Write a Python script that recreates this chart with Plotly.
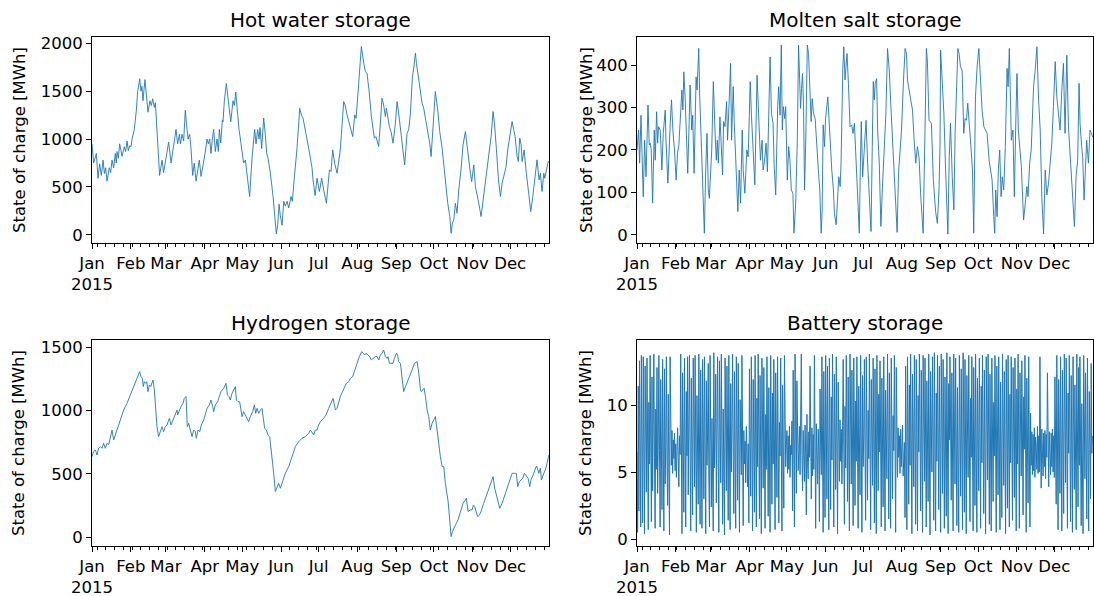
import pandas as pd
import plotly.graph_objects as go

# ---------------- data (day offset from 2015-01-01, MWh) ----------------
hot_water = [(0,950),(1.3,750),(3.5,850),(4.8,590),(6.1,740),(7.5,620),(8.8,780),(9.9,640),(10.9,700),(12.0,560),(13.8,700),(14.9,650),(16.0,780),(17.3,700),(18.6,850),(19.4,750),(20.0,870),(21.0,800),(22.1,950),(24.0,820),(25.8,920),(26.9,870),(28.0,980),(29.0,880),(30.1,930),(31.1,920),(32.0,1000),(33.8,1100),(35.4,1300),(36.5,1500),(38.1,1630),(39.1,1500),(39.9,1550),(40.7,1400),(42.3,1620),(43.4,1450),(44.7,1280),(46.3,1400),(47.4,1350),(48.5,1420),(49.8,1330),(50.6,1380),(52.4,1000),(53.2,800),(54.0,620),(55.9,780),(57.2,650),(59.1,800),(61.2,970),(63.1,750),(64.7,900),(67.1,1100),(68.4,950),(69.8,1050),(70.6,950),(71.9,1050),(73.2,980),(74.5,1300),(75.9,1100),(76.7,1000),(78.0,1050),(79.1,900),(80.4,620),(81.7,750),(83.1,560),(84.7,720),(85.7,780),(87.1,610),(88.4,700),(90.3,850),(91.9,1000),(92.9,950),(94.0,1000),(95.0,850),(96.1,1000),(97.2,1100),(98.5,870),(99.8,1000),(100.9,870),(101.7,1100),(102.8,960),(104.1,1200),(104.6,1180),(105.7,1400),(107.3,1580),(108.1,1500),(109.2,1350),(110.8,1180),(112.6,1400),(113.7,1350),(114.8,1490),(116.3,1200),(117.4,1100),(118.5,1000),(120.1,800),(121.1,750),(122.5,780),(123.3,700),(124.6,550),(125.9,400),(127.8,800),(129.9,1100),(131.0,950),(132.3,1100),(133.4,1000),(134.2,1120),(135.5,900),(136.3,1050),(137.1,1220),(138.4,1050),(139.5,850),(140.6,800),(142.4,650),(144.6,400),(146.2,100),(147.2,10),(148.3,100),(149.4,320),(150.4,200),(151.8,100),(153.1,350),(154.4,300),(155.8,350),(157.1,280),(158.9,400),(160.0,350),(161.6,600),(163.7,900),(165.9,1320),(167.2,1250),(168.5,1220),(170.4,1100),(173.1,900),(175.7,700),
(176.5,574),(178.2,410),(179.7,591),(181.6,452),(183.4,591),(185.0,470),(187.2,330),(189.6,678),(190.9,661),(192.2,887),(193.8,748),(195.7,643),(198.3,887),(201.0,1391),(202.1,1356),(203.7,1252),(205.8,1148),(208.2,1026),(209.8,1252),(210.9,1217),(213.0,1583),(215.1,1965),(217.0,1791),(218.3,1704),(219.6,1687),(221.2,1513),(223.1,1235),(224.4,1113),(225.5,1009),(226.8,1026),(228.9,922),(230.3,1165),(231.6,1426),(232.9,1356),(234.3,1235),(235.1,1322),(236.1,1235),(237.5,1130),(238.8,1078),(240.4,957),(242.3,1165),(243.6,1391),(244.9,1270),(246.8,1026),(248.4,852),(249.7,730),(251.6,1061),(252.9,1096),(254.3,1270),(255.9,1652),(256.9,1739),(258.3,1896),(259.1,1791),(260.1,1687),(262.3,1478),(263.6,1374),(264.9,1322),(266.3,1217),(268.1,1096),(269.7,957),(270.8,817),(272.9,1270),(274.2,1496),(276.1,1304),(277.7,1078),(279.6,904),(282.2,539),(284.1,330),(285.7,191),(286.8,17),(287.8,122),(288.9,157),(290.2,330),(291.5,226),(292.9,470),(294.7,678),(296.3,939),(298.2,1078),(299.0,991),(300.6,783),(302.2,643),(303.2,556),(304.9,730),(306.2,504),(307.5,435),(308.9,330),(310.7,191),(312.3,365),(313.4,435),(315.0,609),(316.8,817),(318.7,1026),(320.3,1287),(321.4,1165),(323.0,887),(324.6,574),(326.2,400),(327.5,539),(328.8,609),(330.7,713),(332.0,887),(333.6,1026),(335.5,1183),(336.8,1096),(337.9,1026),(339.5,817),(340.5,765),(341.6,1009),(342.7,939),(343.5,765),(345.1,887),(346.9,643),(348.8,435),(350.4,243),(352.0,400),(353.6,609),(355.4,783),(357.0,574),(358.1,643),(359.4,452),(360.8,643),(361.6,591),(362.9,696),(364.3,765),(364.9,765)]

molten_salt = [(0,200),(1.3,247),(2.1,169),(3.2,282),(4.0,192),(5.0,90),(6.1,223),(7.2,137),(8.8,306),(9.8,212),(10.6,216),(11.4,200),(12.5,75),(13.8,247),(14.6,176),(15.7,290),(16.5,216),(17.3,255),(18.6,247),(19.9,153),(21.0,239),(22.6,294),(23.1,231),(24.7,122),(26.6,263),(27.6,318),(28.7,247),(30.0,200),(31.3,129),(32.4,192),(33.5,212),(34.8,286),(35.9,341),(36.7,294),(37.5,384),(38.5,325),(39.6,251),(40.6,145),(41.7,263),(42.5,353),(43.8,247),(44.6,282),(45.7,145),(46.5,247),(47.3,372),(48.1,341),(48.9,416),(49.4,439),(50.2,325),(51.3,216),(52.6,90),(53.9,4),(55.0,153),(56.0,239),(57.1,106),(57.9,86),(59.8,200),(61.1,361),(62.4,247),(63.5,176),(64.3,223),(65.1,169),(66.4,278),(67.5,208),(68.5,141),(69.3,267),(70.4,255),(71.7,314),(72.5,223),(73.8,318),(74.9,404),(75.7,223),(77.0,349),(77.8,267),(79.1,153),(80.7,55),(81.8,153),(82.9,75),(84.2,247),(85.0,153),(86.3,98),(87.9,200),(89.0,184),(90.6,361),(91.6,282),(93.0,184),(94.3,118),(96.1,376),(97.5,255),(98.8,176),(100.1,223),(100.9,153),(102.0,172),(103.3,216),(104.4,149),(105.4,255),(106.5,419),(107.6,286),(108.9,263),(109.7,169),(111.0,94),(112.6,302),(113.4,349),(114.5,282),(115.5,447),(116.3,247),(117.1,302),(118.2,274),(119.0,302),(120.3,129),(121.4,208),(122.4,176),(123.5,106),(124.8,98),(125.6,4),(127.0,75),(128.3,223),(129.3,447),(129.9,361),(130.9,298),(131.7,345),(132.5,380),(133.3,302),(134.1,106),(135.2,243),(136.3,447),(137.3,427),(138.4,353),(139.4,267),(140.2,321),(141.3,286),(142.6,274),(144.2,184),(145.3,145),(146.3,106),(147.4,4),(148.2,59),(149.0,259),(150.1,208),(150.9,274),
(152.7,325),(154.0,247),(154.8,208),(155.9,153),(157.2,106),(158.0,51),(159.4,24),(160.7,106),(161.5,137),(162.6,114),(163.3,169),(164.7,388),(165.5,443),(166.5,365),(167.3,404),(168.1,427),(169.2,357),(170.5,255),(171.8,259),(172.9,239),(174.0,263),(175.3,184),(176.6,90),(177.9,4),(178.8,169),(179.5,267),(180.6,137),(181.9,192),(183.3,270),(184.6,169),(185.9,90),(187.3,8),(188.3,208),(189.1,361),(189.9,318),(190.7,357),(191.8,368),(192.6,247),(193.9,169),(195.2,20),(196.6,122),(197.9,208),(199.2,286),(200.5,439),(201.9,388),(203.2,302),(204.5,223),(205.8,161),(207.2,90),(208.2,6),(209.3,145),(210.4,196),(211.7,247),(213.3,365),(214.6,439),(215.7,427),(216.5,365),(217.8,341),(219.1,318),(220.5,294),(221.8,223),(223.1,169),(224.4,208),(225.8,180),(227.1,90),(229.0,4),(230.5,247),(231.6,439),(232.4,412),(233.7,270),(235.6,263),(237.2,129),(239.0,55),(240.4,27),(241.7,106),(242.5,208),(243.0,435),(244.3,372),(245.6,286),(247.0,153),(248.3,67),(248.8,2),(249.9,184),(250.9,263),(252.3,137),(253.6,59),(254.6,239),(255.7,341),(256.8,439),(257.8,427),(258.9,396),(260.2,388),(261.5,239),(262.6,274),(263.7,270),(264.7,310),(265.8,255),(266.9,223),(268.5,153),(269.5,4),(270.9,325),(272.2,396),(273.6,439),(274.9,365),(276.2,294),(277.6,255),(278.9,247),(280.2,239),(281.8,176),(282.9,153),(284.2,129),(285.5,43),(286.3,4),(287.1,106),(288.2,43),(289.2,153),(290.3,200),(291.4,90),(292.4,137),(293.5,106),(294.8,208),(296.2,392),(297.0,349),(298.0,439),(298.8,325),(299.6,223),(300.9,247),(302.0,90),(303.3,282),(304.1,380),(305.2,247),(306.2,208),(307.6,161),(309.4,35),(310.8,82),(312.1,114),(312.9,90),(314.3,169),(315.5,200),(317.4,349),(318.7,388),(320.1,443),(321.4,318),(322.7,247),(324.0,90),(325.4,2),(326.7,153),(328.0,94),(329.4,122),(330.7,169),(332.0,216),(333.3,302),(334.7,408),(336.0,325),(337.3,286),(338.6,247),(340.0,341),(341.3,404),(342.6,239),(344.0,423),(345.3,255),(346.6,188),(347.9,137),(349.3,43),(350.1,20),(351.4,137),(352.7,176),(353.8,357),(354.6,263),(355.9,208),(356.7,184),(357.8,82),(358.8,137),(359.9,223),(361.3,169),(362.6,247),(364.9,230)]

hydrogen = [(0,637),(1.3,676),(2.7,690),(4.0,650),(5.3,703),(6.7,716),(8.0,703),(9.3,742),(10.6,703),(12.0,742),(13.3,729),(14.6,795),(16.0,847),(17.3,768),(18.6,808),(20.0,847),(22.6,926),(25.3,1005),(26.6,1032),(28.0,1058),(30.6,1124),(33.3,1190),(35.9,1269),(38.1,1308),(39.1,1269),(40.2,1255),(41.0,1190),(41.8,1229),(42.9,1216),(43.7,1229),(44.7,1150),(45.8,1203),(46.9,1190),(47.9,1216),(48.7,1242),(49.8,1163),(50.9,953),(51.9,874),(53.2,795),(54.6,847),(55.9,874),(57.2,834),(58.6,874),(59.9,887),(61.8,940),(63.1,887),(64.7,926),(66.0,966),(67.9,1005),(68.4,966),(69.8,1005),(71.1,1032),(72.7,1058),(73.7,1097),(75.1,1111),(76.1,874),(77.2,900),(78.5,847),(79.9,795),(81.2,847),(82.5,834),(83.3,782),(84.7,847),(86.0,834),(87.3,887),(89.2,926),(90.5,979),(91.9,1018),(93.7,1045),(95.0,1084),(96.4,1032),(97.2,992),(98.5,1045),(100.4,1071),(101.7,1111),(103.0,1150),(105.2,1177),(107.0,1216),(108.1,1124),(109.4,1111),(110.5,1084),(111.8,1137),(113.2,1163),(114.5,1190),(115.3,1084),(116.6,1071),(117.9,1071),(119.0,979),(119.8,953),(121.1,992),(122.5,966),(123.8,940),(125.1,913),(126.5,953),(128.3,992),(129.7,1045),(130.7,979),(131.8,1018),(133.1,979),(134.5,1005),(135.8,1018),(136.6,953),(137.9,861),(139.2,847),(140.6,808),(141.9,795),(143.8,637),(145.1,505),(146.4,361),(147.8,400),(149.1,426),(150.4,387),(152.6,453),(154.4,505),(157.1,558),(159.7,637),(162.4,716),(165.1,755),(167.7,782),(170.4,795),(173.1,821),
(174.4,847),(175.7,821),(177.0,808),(178.4,847),(179.7,847),(181.0,887),(182.4,913),(185.0,940),(186.9,966),(189.0,1018),(190.9,1058),(192.5,1097),(194.4,1005),(195.7,1018),(198.3,1111),(201.0,1177),(203.1,1216),(205.0,1229),(206.3,1255),(208.2,1269),(209.8,1321),(211.7,1374),(213.5,1427),(215.4,1466),(216.5,1453),(217.8,1440),(218.8,1453),(220.2,1440),(221.8,1427),(223.1,1400),(224.9,1413),(226.3,1427),(227.6,1427),(228.9,1400),(230.3,1440),(231.6,1453),(232.9,1479),(234.3,1427),(235.6,1413),(236.4,1427),(237.5,1374),(238.8,1374),(240.4,1374),(241.5,1413),(243.1,1453),(244.1,1440),(244.9,1387),(246.3,1374),(247.6,1269),(248.9,1150),(250.3,1190),(251.6,1229),(253.5,1269),(255.6,1321),(257.5,1374),(259.6,1387),(261.0,1295),(262.3,1163),(263.1,1150),(264.1,1163),(265.2,1177),(266.3,1111),(267.6,1005),(268.9,953),(270.2,847),(271.6,900),(272.9,926),(274.2,953),(275.6,847),(276.9,716),(278.2,637),(279.6,558),(280.9,558),(282.2,426),(283.6,347),(284.4,282),(285.2,190),(286.2,97),(286.8,5),(287.8,45),(289.4,84),(291.0,111),(292.3,137),(294.2,203),(296.3,268),(298.2,295),(299.0,308),(300.3,203),(302.2,216),(303.5,216),(304.6,255),(305.6,242),(306.7,203),(308.0,163),(309.4,176),(310.7,203),(312.8,268),(315.5,347),(318.1,413),(320.3,479),(321.6,387),(323.5,321),(325.6,229),(327.5,268),(330.2,347),(332.8,426),(335.5,505),(337.3,505),(338.9,505),(340.0,400),(341.3,440),(342.7,453),(344.0,466),(345.3,505),(346.9,479),(348.3,466),(349.6,400),(350.6,453),(352.8,505),(354.6,558),(355.4,558),(356.8,505),(358.1,545),(358.9,453),(360.8,505),(362.1,532),(363.4,584),(364.5,624),(364.9,650)]

# battery: one reading every 12 hours from 2015-01-01 00:00
battery = [
6.5,0.5,11.4,2.1,13.3,6.2,0.9,13.7,5.8,1.2,13.6,6.9,0.4,12.9,7.3,3.5,13.5,6.0,0.7,10.2,
5.6,13.7,6.4,1.3,12.1,3.6,8.4,13.8,6.1,0.8,9.7,5.2,12.8,3.4,7.0,13.7,6.6,0.9,11.9,5.3,
2.2,13.4,6.7,0.6,12.7,4.1,6.9,13.6,5.9,2.5,10.8,6.3,0.3,13.6,7.2,5.5,8.1,4.9,7.4,6.0,
7.9,5.1,7.1,4.6,6.6,8.3,6.1,3.9,7.7,6.3,13.8,5.9,0.4,12.4,6.6,2.0,13.5,7.4,0.9,11.0,
6.2,13.6,3.3,8.8,13.7,6.3,0.6,12.0,7.1,1.8,13.5,5.4,3.9,13.7,6.8,0.5,10.7,6.0,2.6,13.8,
7.2,1.1,12.6,5.7,0.8,13.4,8.9,3.0,13.6,6.4,0.4,11.8,5.5,7.9,13.1,4.6,0.9,13.7,6.7,2.4,
9.0,6.1,0.6,13.9,5.3,7.8,12.3,2.7,6.9,13.6,6.0,0.5,13.3,7.6,4.2,13.8,5.9,1.1,9.7,6.6,
0.3,13.5,6.2,3.6,12.9,7.0,1.4,13.7,6.4,0.7,11.6,5.0,8.6,13.8,6.1,1.9,12.5,7.2,0.8,13.6,
5.8,2.9,13.1,6.5,0.5,10.4,6.9,4.8,13.7,6.2,1.0,8.1,5.6,7.3,4.2,8.4,6.8,3.9,7.1,1.2,
12.7,6.3,3.2,13.6,5.7,0.6,11.9,7.4,2.0,13.7,6.1,0.9,10.5,5.4,13.8,6.6,1.5,12.2,7.0,0.4,
13.5,5.9,3.8,12.8,6.7,0.8,9.3,5.2,13.6,6.9,1.7,11.3,6.0,0.5,13.7,7.3,2.6,10.9,5.6,13.4,
6.4,0.7,12.4,5.5,3.1,13.6,7.1,1.2,8.7,6.2,13.5,5.8,0.6,11.5,6.8,2.3,13.7,6.3,5.4,7.0,
8.1,4.9,7.7,5.2,8.4,4.6,7.0,6.3,8.8,2.1,12.6,6.5,0.9,13.8,5.6,3.4,11.8,7.2,5.1,6.6,
8.4,4.8,7.9,13.8,6.2,3.6,8.1,6.0,4.3,8.5,6.4,1.8,9.3,5.7,4.5,8.0,6.1,12.9,6.5,3.0,
8.3,4.7,7.8,5.2,13.7,6.0,0.8,8.6,5.4,4.1,8.2,6.6,1.3,11.2,6.9,4.8,13.6,6.3,0.5,12.5,
7.1,1.6,13.7,5.4,3.0,12.9,8.0,0.7,13.5,6.5,2.2,10.6,5.9,13.8,7.6,0.9,12.3,6.2,3.7,13.6,
5.5,0.4,11.7,7.0,4.3,8.9,5.8,8.2,4.1,7.6,13.4,6.8,1.1,9.9,5.3,13.7,7.4,2.8,12.1,6.0,
0.6,13.8,5.7,4.1,12.6,7.3,1.0,13.5,6.4,2.5,10.3,5.8,13.6,7.0,0.8,11.4,6.1,3.3,13.7,6.6,
0.5,12.2,5.4,7.8,13.4,6.3,1.4,13.6,7.2,2.9,9.6,6.0,13.8,5.5,0.7,11.9,6.8,4.0,13.5,6.2,
1.2,12.7,7.4,0.4,13.7,5.6,3.6,10.8,6.5,13.3,6.9,0.9,12.0,5.9,2.4,13.6,7.1,0.6,11.1,6.3,
4.5,13.8,5.8,1.5,12.4,7.0,0.8,13.5,6.2,3.0,9.2,6.6,13.7,5.4,0.5,12.8,6.9,4.6,8.3,6.1,
7.7,4.9,8.2,5.4,7.0,8.5,4.7,6.8,7.2,1.6,12.9,6.4,0.7,13.6,7.7,2.6,11.5,5.5,13.8,6.8,
0.4,12.3,6.0,3.9,13.7,7.3,1.1,13.4,5.7,0.6,10.7,6.5,13.8,7.0,2.1,12.6,5.9,0.5,13.7,6.3,
4.3,13.5,7.5,0.9,11.8,5.6,2.8,13.8,6.7,0.3,12.5,7.1,5.0,13.6,6.0,1.4,13.9,6.4,0.6,10.9,
5.8,13.7,7.2,2.2,12.9,6.3,0.5,13.8,5.5,3.4,13.4,7.0,0.8,12.1,6.6,1.7,13.9,5.9,0.4,11.6,
7.4,13.6,6.1,2.9,12.4,5.7,0.6,13.8,6.8,4.1,13.5,7.3,1.0,11.3,6.2,0.5,13.7,5.6,3.2,12.7,
6.9,0.7,13.9,6.0,2.0,13.4,7.5,0.4,12.2,5.8,4.6,13.7,6.5,1.3,10.5,6.1,13.6,7.0,0.6,12.8,
5.4,2.5,13.8,6.6,0.5,12.0,7.2,3.6,13.5,6.0,0.8,11.4,5.7,13.7,6.9,1.9,12.6,6.3,0.4,13.6,
7.1,4.4,13.8,5.9,1.1,12.3,6.7,0.6,13.5,7.4,2.8,10.2,6.2,13.7,5.5,0.5,12.9,6.8,3.3,13.6,
6.0,0.7,11.7,7.3,1.6,13.8,5.8,4.0,12.5,6.5,0.4,13.4,7.0,2.3,13.7,6.1,0.9,10.8,5.7,13.6,
6.9,1.4,12.8,6.3,3.1,13.5,7.5,0.6,11.2,5.6,13.8,6.4,0.8,12.4,7.2,4.7,13.3,6.0,1.8,10.6,
6.7,13.7,5.9,0.5,12.0,7.1,2.7,13.6,6.2,0.9,9.4,5.5,8.0,4.8,7.8,5.1,8.3,4.6,7.6,6.9,
5.2,8.4,4.9,7.7,5.0,13.6,6.5,3.8,8.2,5.3,4.7,7.9,5.4,8.1,4.5,7.8,6.1,12.4,6.6,3.9,
8.0,5.2,4.8,7.9,5.4,8.2,5.0,7.7,4.6,12.1,6.5,2.6,13.7,6.8,0.7,11.9,5.9,3.4,13.6,7.3,
0.6,12.6,6.1,1.9,13.8,5.7,4.2,13.5,7.0,0.8,10.9,6.4,13.7,5.8,1.3,12.2,6.9,0.5,13.6,6.2,
3.7,11.5,7.4,0.7,13.8,6.0,2.4,12.8,5.5,13.6,6.7,1.0,10.1,6.3,0.4,13.7,7.1,4.5,12.4,5.9,
1.5,13.5,6.6,0.6,11.0,7.0,3.0,13.1,6.4,7.7]

months = ["Jan<br>2015", "Feb", "Mar", "Apr", "May", "Jun",
          "Jul", "Aug", "Sep", "Oct", "Nov", "Dec"]
titles = ["Hot water storage", "Molten salt storage", "Hydrogen storage", "Battery storage"]
ylabel = "State of charge [MWh]"

# ---------------- build ----------------
start = pd.Timestamp("2015-01-01")
end = pd.Timestamp("2015-12-31 23:00")
month_starts = pd.date_range("2015-01-01", periods=12, freq="MS")
mondays = pd.date_range("2015-01-05", "2015-12-31", freq="7D")


def series(pairs):
    xs = [start + pd.Timedelta(days=d) for d, _ in pairs]
    ys = [v for _, v in pairs]
    return xs, ys

BLUE = "#1f77b4"
FONT = "DejaVu Sans"
W, H = 1094, 596
TICK_SIZE = 16.5
TITLE_SIZE = 20

fig = go.Figure()
panels = [series(hot_water), series(molten_salt), series(hydrogen),
          (list(pd.date_range(start, periods=len(battery), freq="12h")), battery)]
for i, (xs, ys) in enumerate(panels):
    n = "" if i == 0 else str(i + 1)
    fig.add_trace(go.Scatter(x=xs, y=ys, mode="lines",
                             line=dict(color=BLUE, width=0.9 if i < 3 else 1.0),
                             xaxis="x" + n, yaxis="y" + n,
                             hoverinfo="skip", showlegend=False))

xdom = [[92 / W, 549 / W], [637 / W, 1093 / W]]
ydom = [[1 - 243 / H, 1 - 37 / H], [1 - 546 / H, 1 - 340 / H]]
yranges = [[-85, 2065], [-19, 466], [-69, 1558], [-0.52, 14.85]]
yticks = [[0, 500, 1000, 1500, 2000], [0, 100, 200, 300, 400],
          [0, 500, 1000, 1500], [0, 5, 10]]

layout = dict(width=W, height=H, margin=dict(l=0, r=0, t=0, b=0, autoexpand=False),
              paper_bgcolor="white", plot_bgcolor="white",
              font=dict(family=FONT, size=TICK_SIZE, color="black"),
              showlegend=False)
annotations = []
for i in range(4):
    r, c = divmod(i, 2)
    n = "" if i == 0 else str(i + 1)
    layout["xaxis" + n] = dict(
        type="date", domain=xdom[c], anchor="y" + n,
        range=[start, end], automargin=False,
        tickmode="array", tickvals=list(month_starts), ticktext=months,
        ticks="outside", ticklen=5, tickwidth=1, tickcolor="black",
        showline=True, linecolor="black", linewidth=1, mirror=True,
        showgrid=False, zeroline=False,
        tickfont=dict(family=FONT, size=TICK_SIZE, color="black"),
        minor=dict(tickmode="array", tickvals=list(mondays), ticks="outside",
                   ticklen=3, tickwidth=1, tickcolor="black", showgrid=False),
    )
    layout["yaxis" + n] = dict(
        domain=ydom[r], anchor="x" + n, range=yranges[i], automargin=False,
        tickmode="array", tickvals=yticks[i],
        ticktext=[str(v) for v in yticks[i]],
        ticks="outside", ticklen=5, tickwidth=1, tickcolor="black",
        showline=True, linecolor="black", linewidth=1, mirror=True,
        showgrid=False, zeroline=False,
        tickfont=dict(family=FONT, size=TICK_SIZE, color="black"),
    )
    cx = (xdom[c][0] + xdom[c][1]) / 2
    ty = ydom[r][1] + 17 / H
    annotations.append(dict(text=titles[i], x=cx, y=ty, xref="paper", yref="paper",
                            xanchor="center", yanchor="middle", showarrow=False,
                            font=dict(family=FONT, size=TITLE_SIZE, color="black")))
    lx = [19 / W, 586 / W][c]
    ly = (ydom[r][0] + ydom[r][1]) / 2
    annotations.append(dict(text=ylabel, x=lx, y=ly, xref="paper", yref="paper",
                            xanchor="center", yanchor="middle", textangle=-90,
                            showarrow=False,
                            font=dict(family=FONT, size=TICK_SIZE, color="black")))
layout["annotations"] = annotations
fig.update_layout(**layout)
fig.write_html("out.html", config={"displayModeBar": False, "staticPlot": True},
               post_script="document.body.style.margin='0';document.body.style.overflow='hidden';")
